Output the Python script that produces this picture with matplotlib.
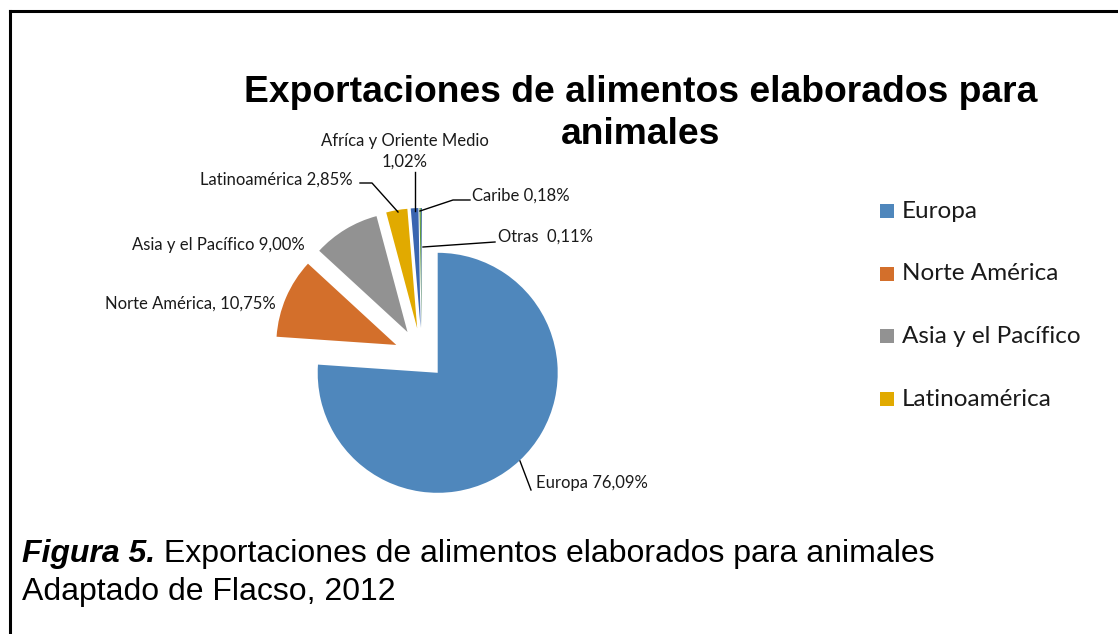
import matplotlib
matplotlib.use('Agg')
import matplotlib.pyplot as plt
from matplotlib.patches import Rectangle
from matplotlib.lines import Line2D

# exportaciones por region (%)
regiones = ['Europa', 'Norte América', 'Asia y el Pacífico', 'Latinoamérica',
            'Afríca y Oriente Medio', 'Caribe', 'Otras']
porcentajes = [76.09, 10.75, 9.00, 2.85, 1.02, 0.18, 0.11]
separadores = [' ', ', ', ' ', ' ', '\n', ' ', '  ']
colores = ['#4F87BC', '#D36F2B', '#929292', '#E1AA00', '#3A65B0', '#5E9B3A', '#2A5C8F']
en_leyenda = regiones[:4]

titulo = ['Exportaciones de alimentos elaborados para', 'animales']
pie_fig = 'Exportaciones de alimentos elaborados para animales'
fuente = 'Adaptado de Flacso, 2012'

W, H = 1118, 634


def py(y):
    # coordenadas de pixel (y hacia abajo) a datos
    return H - y


def fmt(v):
    return f'{v:.2f}'.replace('.', ',') + '%'


fig = plt.figure(figsize=(W / 100, H / 100), dpi=100)
ax = fig.add_axes([0, 0, 1, 1])

ax.pie(porcentajes, colors=colores, startangle=90, counterclock=False,
       radius=120, center=(422, py(356)), explode=[23] + [28] * 6,
       wedgeprops=dict(linewidth=0))
ax.set_xlim(0, W)
ax.set_ylim(0, H)
ax.set_aspect('equal')
ax.axis('off')

# marco (solo se ven el borde superior e izquierdo)
fig.add_artist(Line2D([10 / W, 1], [1 - 11 / H, 1 - 11 / H], color='black', lw=2.2))
fig.add_artist(Line2D([10 / W, 10 / W], [0, 1 - 11 / H], color='black', lw=2.2))

# titulo, una linea por texto
for linea, y in zip(titulo, [93, 135]):
    ax.text(641, py(y), linea, ha='center', va='center', fontsize=26.8,
            fontweight='bold', family='Liberation Sans')

# etiquetas de datos
lbl_font = dict(family='Lato', fontsize=12, color='#1a1a1a')
pos_lbl = [(536, 483, 'left'), (276, 304, 'right'), (305, 245, 'right'),
           (353, 180, 'right'), (405, 151, 'center'), (472, 196, 'left'),
           (498, 237, 'left')]
for nombre, v, sep, (x, y, ha) in zip(regiones, porcentajes, separadores, pos_lbl):
    ax.text(x, py(y), nombre + sep + fmt(v), ha=ha, va='center',
            linespacing=1.35, **lbl_font)

# lineas guia
guias = [
    [(520, 461), (531, 490)],
    [(415, 172), (415, 211)],
    [(360, 183), (372, 183), (398, 212)],
    [(470, 200), (453, 200), (420, 211)],
    [(495, 242), (423, 247)],
]
for g in guias:
    ax.plot([p[0] for p in g], [py(p[1]) for p in g], color='black', lw=1)

# leyenda
for i, nombre in enumerate(en_leyenda):
    yc = 211 + i * 62.7
    ax.add_patch(Rectangle((880, py(yc + 7)), 14, 14, color=colores[i], lw=0))
    ax.text(902, py(yc), nombre, va='center', ha='left', family='Lato',
            fontsize=17.5, color='#1a1a1a')

# pie de figura
t1 = ax.text(22, py(562), 'Figura 5.', fontsize=23, fontweight='bold',
             fontstyle='italic', family='Liberation Sans')
fig.canvas.draw()
bb = t1.get_window_extent()
ax.text(bb.x1, py(562), ' ' + pie_fig, fontsize=23, family='Liberation Sans')
ax.text(22, py(600), fuente, fontsize=23, family='Liberation Sans')

fig.savefig('out.png', dpi=100)
